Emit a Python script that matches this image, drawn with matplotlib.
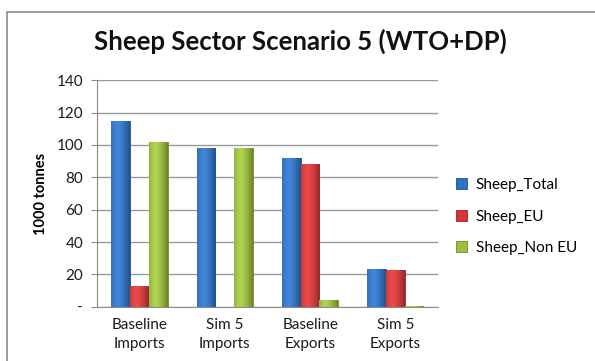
import numpy as np
import matplotlib
matplotlib.use("Agg")
import matplotlib.pyplot as plt
from matplotlib.patches import Rectangle

plt.rcParams['font.family'] = ['Lato', 'DejaVu Sans']

categories = ["Baseline\nImports", "Sim 5\nImports", "Baseline\nExports", "Sim 5\nExports"]
series_names = ["Sheep_Total", "Sheep_EU", "Sheep_Non EU"]
sheep_total = [115, 98, 92, 23.5]
sheep_eu = [13, 0, 88.5, 22.5]
sheep_non_eu = [102, 98, 4, 0.5]
y_ticks = [0, 20, 40, 60, 80, 100, 120, 140]
y_tick_labels = ["-", "20", "40", "60", "80", "100", "120", "140"]

colors = ["#2E72C6", "#D83636", "#9CC03C"]
edges = ["#1F4F8F", "#9A2424", "#6E8C22"]

fig = plt.figure(figsize=(5.95, 3.61), dpi=100)
fig.patch.set_facecolor("white")
fig.add_artist(Rectangle((7 / 595, -0.05), 1.2, 1 - 12 / 361 + 0.05,
                         transform=fig.transFigure, fill=False,
                         edgecolor="#8C8C8C", linewidth=1.2))

ax = fig.add_axes([0.163, 0.150, 0.573, 0.628])
x = np.arange(len(categories))
width = 0.22
all_series = [sheep_total, sheep_eu, sheep_non_eu]

for i, (vals, c, ec, name) in enumerate(zip(all_series, colors, edges, series_names)):
    bars = ax.bar(x + (i - 1) * width, vals, width, color=c, edgecolor=ec,
                  linewidth=0.6, label=name, zorder=3)
    # horizontal shading for a rounded look
    for b in bars:
        h = b.get_height()
        if h <= 0:
            continue
        grad = np.linspace(0, 1, 64)
        shade = 1 - 0.35 * (np.abs(grad - 0.35) / 0.65) ** 1.5
        img = np.ones((1, 64, 4))
        base = np.array(matplotlib.colors.to_rgb(c))
        img[0, :, :3] = np.clip(base[None, :] * shade[:, None] + 0.08 * (1 - np.abs(grad - 0.35))[:, None], 0, 1)
        im = ax.imshow(img, extent=[b.get_x(), b.get_x() + b.get_width(), 0, h],
                       aspect="auto", zorder=3.5, interpolation="bilinear")
        im.set_clip_path(b)

ax.set_xlim(-0.5, 3.5)
ax.set_ylim(0, 140)
ax.set_yticks(y_ticks)
ax.set_yticklabels(y_tick_labels, fontsize=11, color="#1a1a1a")
ax.set_xticks(x)
ax.set_xticklabels(categories, fontsize=11, color="#1a1a1a", linespacing=1.5)
ax.tick_params(axis="x", length=0, pad=8)
ax.tick_params(axis="y", length=4, color="#8C8C8C", pad=6)
ax.yaxis.grid(True, color="#9A9A9A", linewidth=1.0, zorder=0)
ax.set_axisbelow(True)
for s in ["top", "right"]:
    ax.spines[s].set_visible(False)
ax.spines["left"].set_color("#8C8C8C")
ax.spines["bottom"].set_color("#8C8C8C")
ax.set_ylabel("1000 tonnes", fontsize=10.5, fontweight="bold", labelpad=6)

fig.text(0.505, 0.885, "Sheep Sector Scenario 5 (WTO+DP)", ha="center", va="center",
         fontsize=18.5, fontweight="bold", color="#111111")

handles = [Rectangle((0, 0), 1, 1, facecolor=c, edgecolor=ec, linewidth=0.6)
           for c, ec in zip(colors, edges)]
fig.legend(handles, series_names, loc="center left", bbox_to_anchor=(0.743, 0.40),
           frameon=False, fontsize=11, handlelength=0.7, handleheight=0.7,
           labelspacing=1.15, handletextpad=0.6)

fig.savefig("out.png", dpi=100)
